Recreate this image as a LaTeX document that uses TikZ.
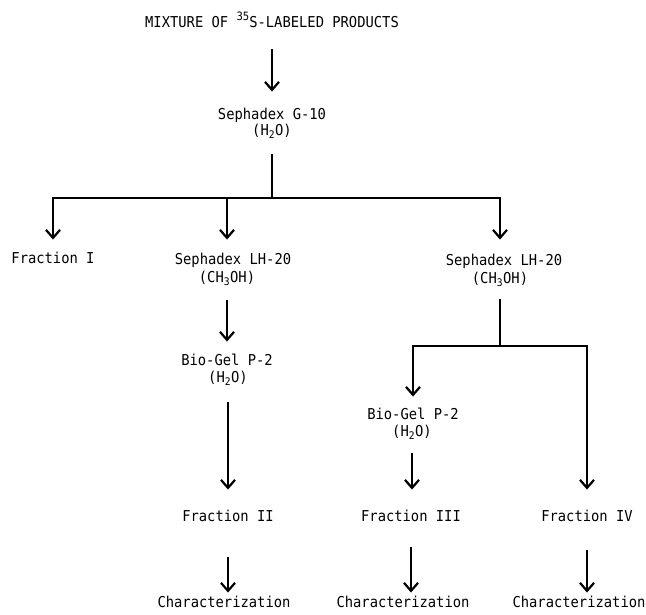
\documentclass[tikz,border=0pt]{standalone}
\usepackage{fontspec}
\newfontfamily\labfont{DejaVu Sans Mono}[FakeStretch=0.92]
\usetikzlibrary{arrows.meta}
\newcommand{\supnum}[1]{\raisebox{7.5pt}{\fontsize{11.5pt}{12pt}\selectfont #1}}
\begin{document}
\begin{tikzpicture}[x=1pt,y=-1pt,
  lbl/.style={font=\labfont\fontsize{15pt}{17pt}\selectfont, inner sep=0pt, text height=11pt, text depth=3.5pt},
  conn/.style={line width=1.9pt},
  arr/.style={conn, -{Straight Barb[length=8pt,width=14pt,line width=2.2pt]}}]
\useasboundingbox (0,0) rectangle (646,614);
% nodes
\node[lbl] (title) at (272,24) {MIXTURE OF \supnum{35}S-LABELED PRODUCTS};
\node[lbl] (g10) at (272,116) {Sephadex G-10};
\node[lbl] (g10s) at (272,132) {(H\textsubscript{2}O)};
\coordinate (j1) at (272,198);
\node[lbl] (frac1) at (53,260) {Fraction I};
\node[lbl] (lha) at (233,261) {Sephadex LH-20};
\node[lbl] (lhas) at (227,279) {(CH\textsubscript{3}OH)};
\node[lbl] (bga) at (227,362) {Bio-Gel P-2};
\node[lbl] (bgas) at (228,379) {(H\textsubscript{2}O)};
\node[lbl] (frac2) at (228,518) {Fraction II};
\node[lbl] (char2) at (224,604) {Characterization};
\node[lbl] (lhb) at (504,262) {Sephadex LH-20};
\node[lbl] (lhbs) at (500,280) {(CH\textsubscript{3}OH)};
\coordinate (j2) at (500,346);
\node[lbl] (bgc) at (413,416) {Bio-Gel P-2};
\node[lbl] (bgcs) at (412,433) {(H\textsubscript{2}O)};
\node[lbl] (frac3) at (411,518) {Fraction III};
\node[lbl] (char3) at (403,604) {Characterization};
\node[lbl] (frac4) at (587,518) {Fraction IV};
\node[lbl] (char4) at (579,604) {Characterization};
% connectors
\draw[arr, shorten <=18pt, shorten >=17pt] (title) -- (g10);
\draw[conn, shorten <=15pt] (g10s) -- (j1);
\draw[arr, shorten >=13pt] (j1) -| (frac1);
\draw[arr, shorten >=14pt] (j1) -| (lhas |- lha.north);
\draw[arr, shorten >=15pt] (j1) -| (lhbs |- lhb.north);
\draw[arr, shorten <=14pt, shorten >=13pt] (lhas) -- (bga);
\draw[arr, shorten <=16pt, shorten >=21pt] (bgas) -- (bgas |- frac2.north);
\draw[arr, shorten <=32pt, shorten >=4pt] (frac2) -- (frac2 |- char2.north);
\draw[conn, shorten <=12pt] (lhbs) -- (j2);
\draw[arr, shorten >=12pt] (j2) -| (bgc);
\draw[arr, shorten >=21pt] (j2) -| (frac4);
\draw[arr, shorten <=13pt, shorten >=21pt] (bgcs) -- (bgcs |- frac3.north);
\draw[arr, shorten <=22pt, shorten >=4pt] (frac3) -- (frac3 |- char3.north);
\draw[arr, shorten <=25pt, shorten >=4pt] (frac4) -- (frac4 |- char4.north);
\end{tikzpicture}
\end{document}
